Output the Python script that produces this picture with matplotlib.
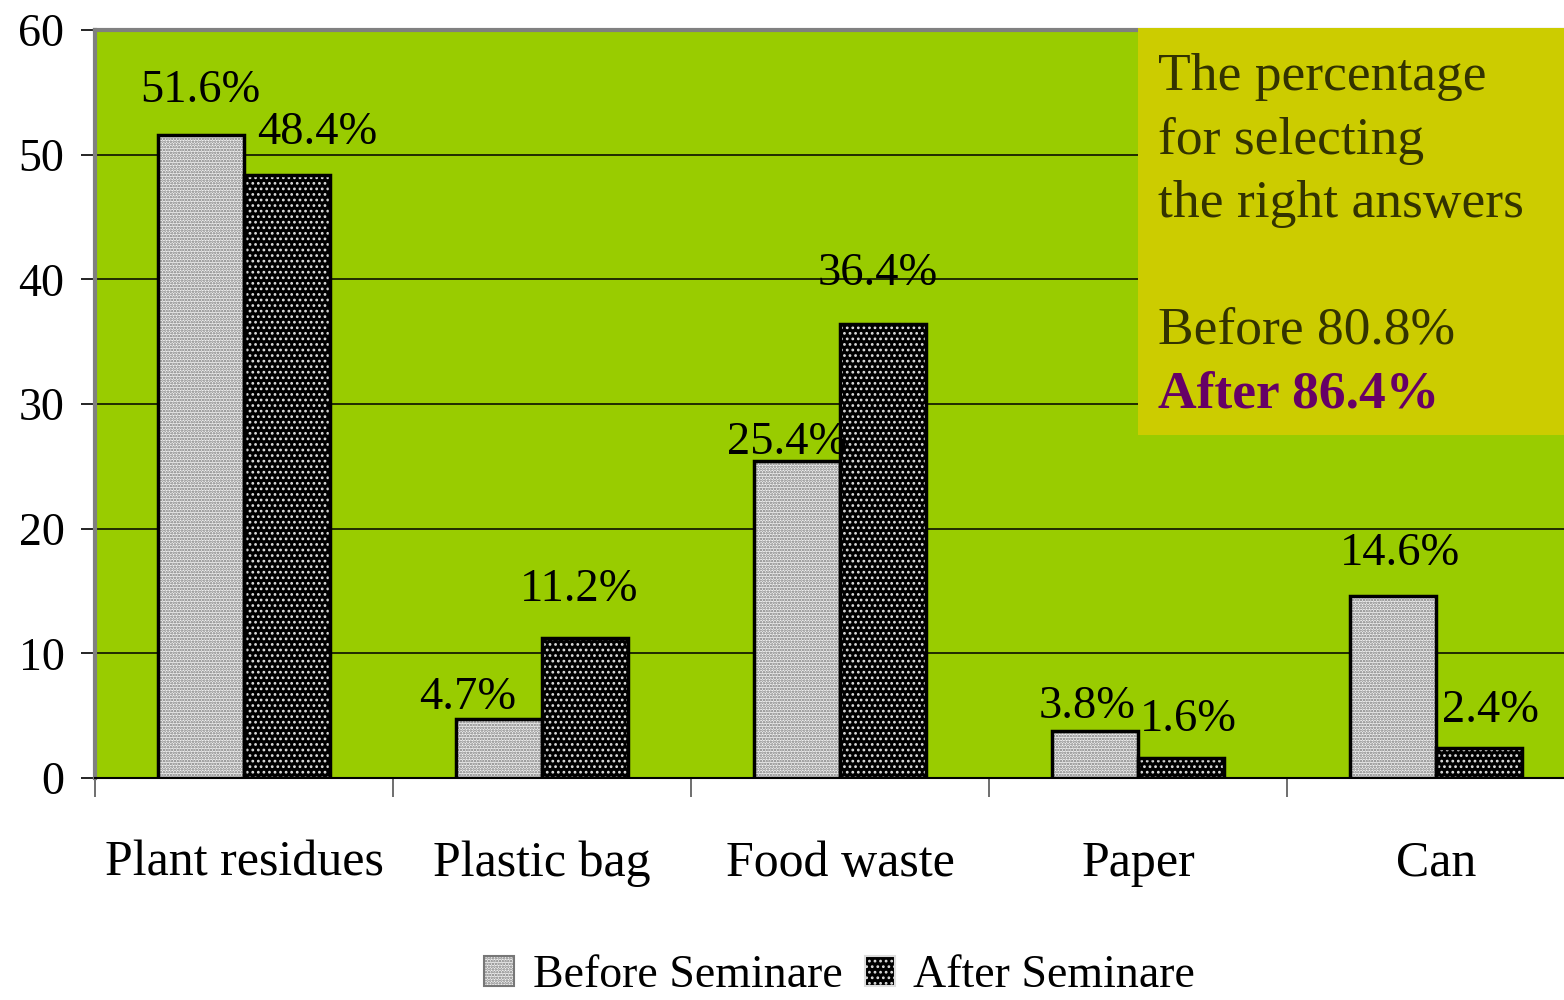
import numpy as np
import matplotlib
matplotlib.use("Agg")
import matplotlib.pyplot as plt
from matplotlib.patches import Rectangle, Patch

categories = ["Plant residues", "Plastic bag", "Food waste", "Paper", "Can"]
before = [51.6, 4.7, 25.4, 3.8, 14.6]
after = [48.4, 11.2, 36.4, 1.6, 2.4]
series_names = ["Before Seminare", "After Seminare"]
yticks = [0, 10, 20, 30, 40, 50, 60]
note_lines = ["The percentage", "for selecting", "the right answers", "", "Before 80.8%"]
note_after = "After 86.4%"

# label nudges in pixels (dx, dy above bar top), as placed in the original
before_offsets = [(0, 44), (-31, 22), (-10, 19), (-8, 24), (7, 42)]
after_offsets = [(30, 42), (-6, 49), (-5, 50), (7, 38), (11, 37)]

plt.rcParams["font.family"] = ["Liberation Serif", "DejaVu Serif"]
plt.rcParams["hatch.linewidth"] = 1.2

fig = plt.figure(figsize=(15.64, 10), dpi=100)
ax = fig.add_axes([95 / 1564, 1 - 778 / 1000, 1 - 95 / 1564, (778 - 30) / 1000])
ax.set_facecolor("#99CC00")

x = np.arange(len(categories))
w = 0.29

# hatched fills first, then plain black outlines on top
b1 = ax.bar(x - w / 2, before, w, color="#f2f2f2", edgecolor="#777777", hatch="......", linewidth=0, zorder=3)
b2 = ax.bar(x + w / 2, after, w, color="black", edgecolor="#dddddd", hatch="...", linewidth=0, zorder=3)
ax.bar(x - w / 2, before, w, fill=False, edgecolor="black", linewidth=2.5, zorder=4)
ax.bar(x + w / 2, after, w, fill=False, edgecolor="black", linewidth=2.5, zorder=4)

for xs, vals, offs in [(x - w / 2, before, before_offsets), (x + w / 2, after, after_offsets)]:
    for xi, v, (dx, dy) in zip(xs, vals, offs):
        ax.annotate(f"{v}%", (xi, v), xytext=(dx * 0.72, dy * 0.72), textcoords="offset points",
                    ha="center", va="center", fontsize=33.5, zorder=5)

ax.set_xlim(-0.5, -0.5 + (1564 - 95) / 298)
ax.set_ylim(0, 60)
ax.set_yticks(yticks)
ax.tick_params(axis="y", labelsize=33, length=10, width=1.2, pad=12, direction="out")
ax.grid(axis="y", color="black", linewidth=1.1, zorder=1)
ax.set_axisbelow(True)

ax.set_xticks(x)
ax.set_xticklabels(categories, fontsize=36)
ax.tick_params(axis="x", length=0, pad=45)
ax.set_xticks(np.arange(len(categories)) - 0.5, minor=True)
ax.tick_params(axis="x", which="minor", length=14, width=1.2, color="#555555")

for s in ["top", "left"]:
    ax.spines[s].set_color("#808080")
    ax.spines[s].set_linewidth(3)
ax.spines["right"].set_visible(False)
ax.spines["bottom"].set_color("black")
ax.spines["bottom"].set_linewidth(1.5)

# side note box
fig.patches.append(Rectangle((1138 / 1564, 1 - 435 / 1000), 1.0, 407 / 1000,
                             transform=fig.transFigure, facecolor="#CCCC00", edgecolor="none", zorder=10))
line_y = [77, 141, 204, 267, 331]
for txt, yp in zip(note_lines, line_y):
    fig.text(1158 / 1564, 1 - yp / 1000, txt, fontsize=38.5, color="#333300",
             va="center", ha="left", zorder=11)
fig.text(1158 / 1564, 1 - 394 / 1000, note_after, fontsize=38.5, color="#660066",
         fontweight="bold", va="center", ha="left", zorder=11)

handles = [Patch(facecolor="#f2f2f2", edgecolor="#777777", hatch="......"),
           Patch(facecolor="black", edgecolor="#dddddd", hatch="...")]
leg = fig.legend(handles, series_names, loc="center", bbox_to_anchor=(0.537, 0.024), ncol=2,
                 frameon=False, fontsize=33, handlelength=0.65, handleheight=0.65,
                 handletextpad=0.4, columnspacing=0.5)
for h in leg.legend_handles:
    h.set_linewidth(1.5)

fig.savefig("out.png", dpi=100)
